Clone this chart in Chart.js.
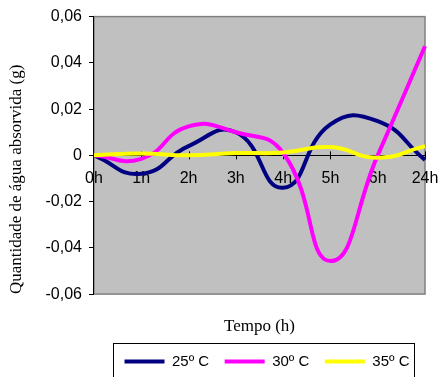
<!DOCTYPE html>
<html>
<head>
<meta charset="utf-8">
<script src="https://cdn.jsdelivr.net/npm/chart.js@4.4.0/dist/chart.umd.min.js"></script>
<style>
  html, body { margin: 0; padding: 0; background: #fff; }
</style>
</head>
<body>
<canvas id="grafico" width="441" height="377"></canvas>
<script>
const tempos = ['0h', '1h', '2h', '3h', '4h', '5h', '6h', '24h']
const agua25 = [0, -0.008, 0.004, 0.010, -0.014, 0.0134, 0.0148, -0.002]
const agua30 = [0, -0.0015, 0.0125, 0.010, 0.001, -0.0457, 0, 0.0472]
const agua35 = [0, 0.0008, 0, 0.001, 0.0012, 0.0036, -0.001, 0.004]
const yTicks = [-0.06, -0.04, -0.02, 0, 0.02, 0.04, 0.06]

// gray plot area with a thin darker frame
const fundoPlot = {
  id: 'fundoPlot',
  beforeDraw(chart) {
    const {ctx, chartArea: a} = chart
    ctx.save()
    ctx.fillStyle = '#c0c0c0'
    ctx.fillRect(a.left, a.top, a.width, a.height)
    ctx.strokeStyle = '#808080'
    ctx.lineWidth = 1.5
    ctx.strokeRect(a.left, a.top, a.width, a.height)
    ctx.restore()
  }
}

// small tick marks crossing the zero line
const marcasX = {
  id: 'marcasX',
  beforeDatasetsDraw(chart) {
    const {ctx} = chart
    const x = chart.scales.x
    const y0 = chart.scales.y.getPixelForValue(0)
    ctx.save()
    ctx.strokeStyle = '#000'
    ctx.lineWidth = 1
    ctx.beginPath()
    for (let i = 1; i < x.ticks.length; i++) {
      const px = Math.round(x.getPixelForTick(i)) + 0.5
      ctx.moveTo(px, y0 - 4)
      ctx.lineTo(px, y0 + 4)
    }
    ctx.stroke()
    ctx.restore()
  }
}

// frame around the legend
const caixaLegenda = {
  id: 'caixaLegenda',
  afterDraw(chart) {
    const hb = chart.legend.legendHitBoxes
    if (!hb || !hb.length) return
    const first = hb[0], last = hb[hb.length - 1]
    const left = Math.round(first.left - 12) + 0.5
    const right = Math.round(last.left + last.width + 4) + 0.5
    const top = Math.round(first.top - 11) + 0.5
    const {ctx} = chart
    ctx.save()
    ctx.strokeStyle = '#000'
    ctx.lineWidth = 1
    ctx.strokeRect(left, top, right - left, chart.height - top + 10)
    ctx.restore()
  }
}

function serie(label, data, cor, ordem) {
  return {
    label, data, order: ordem,
    borderColor: cor, backgroundColor: cor,
    pointBorderColor: cor, pointBackgroundColor: cor, pointBorderWidth: 4
  }
}

new Chart(document.getElementById('grafico'), {
  type: 'line',
  data: {
    labels: tempos,
    datasets: [
      serie('25º C', agua25, '#000080', 3),
      serie('30º C', agua30, '#ff00ff', 2),
      serie('35º C', agua35, '#ffff00', 1)
    ]
  },
  options: {
    responsive: false,
    animation: false,
    layout: {padding: {top: 15, right: 16, left: 0, bottom: -2}},
    elements: {
      line: {borderWidth: 4, tension: 0.5, fill: false},
      point: {radius: 0, hoverRadius: 0}
    },
    scales: {
      x: {
        position: {y: 0},
        offset: false,
        afterFit: s => { s.paddingLeft = 0; s.paddingRight = 0 },
        grid: {display: true, drawOnChartArea: false, drawTicks: false},
        border: {display: true, color: '#000', width: 1},
        ticks: {
          color: '#000',
          font: {family: 'Liberation Sans', size: 16},
          padding: 14,
          maxRotation: 0,
          autoSkip: false
        }
      },
      y: {
        min: -0.06,
        max: 0.06,
        afterBuildTicks: s => { s.ticks = yTicks.map(v => ({value: v})) },
        grid: {drawOnChartArea: false, tickLength: 5, color: '#000'},
        border: {color: '#000', width: 1},
        ticks: {
          color: '#000',
          font: {family: 'Liberation Sans', size: 16},
          padding: 7,
          callback: v => v === 0 ? '0' : v.toFixed(2).replace('.', ',')
        },
        title: {
          display: true,
          text: 'Quantidade de água absorvida (g)',
          align: 'start',
          color: '#000',
          font: {family: 'Liberation Serif', size: 17},
          padding: {top: 6.8, bottom: 11.3}
        }
      }
    },
    plugins: {
      title: {
        display: true,
        text: 'Tempo (h)',
        position: 'bottom',
        weight: 500,
        fullSize: false,
        color: '#000',
        font: {family: 'Liberation Serif', size: 17, weight: 'normal'},
        padding: {top: 21.8, bottom: 2.2}
      },
      legend: {
        position: 'bottom',
        align: 'end',
        fullSize: false,
        labels: {
          usePointStyle: true,
          pointStyle: 'line',
          pointStyleWidth: 40,
          color: '#000',
          font: {family: 'Liberation Sans', size: 15},
          padding: 15.5,
          sort: (a, b) => a.datasetIndex - b.datasetIndex
        }
      },
      tooltip: {enabled: false}
    }
  },
  plugins: [fundoPlot, marcasX, caixaLegenda]
})
</script>
</body>
</html>
